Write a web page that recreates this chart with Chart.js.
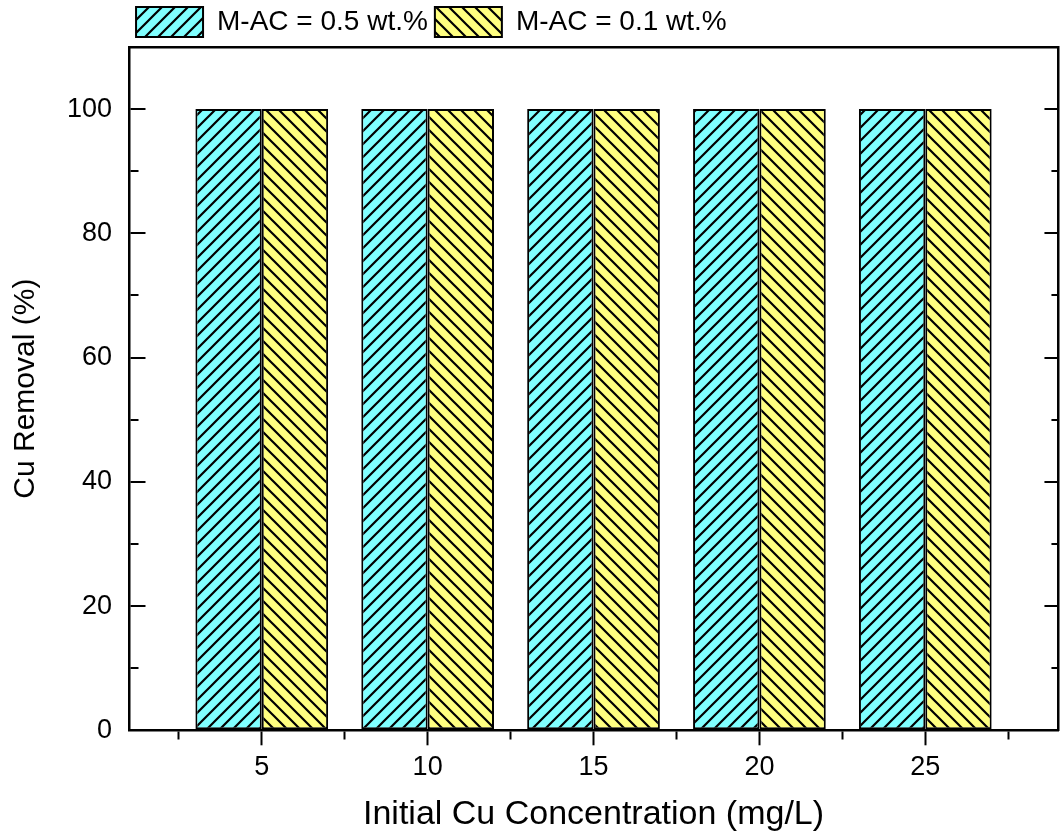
<!DOCTYPE html>
<html><head><meta charset="utf-8">
<script src="https://cdn.jsdelivr.net/npm/chart.js@4.4.1/dist/chart.umd.min.js"></script>
<style>html,body{margin:0;padding:0;background:#fff}#wrap{width:1061px;height:839px;position:relative}</style>
</head><body><div id="wrap"><canvas id="c" width="1061" height="839" style="width:1061px;height:839px"></canvas></div>
<script>
const categories = [5, 10, 15, 20, 25];
const seriesNames = ['M-AC = 0.5 wt.%', 'M-AC = 0.1 wt.%'];
const removal05 = [100, 100, 100, 100, 100];
const removal01 = [100, 100, 100, 100, 100];
const xMajorTicks = [5, 10, 15, 20, 25];
const xMinorTicks = [2.5, 7.5, 12.5, 17.5, 22.5, 27.5];
const yMajorTicks = [0, 20, 40, 60, 80, 100];
const yMinorTicks = [10, 30, 50, 70, 90];
const xRange = [1, 29];
const yRange = [0, 110];
const xTitle = 'Initial Cu Concentration (mg/L)';
const yTitle = 'Cu Removal (%)';

const FONT = "'Liberation Sans', Arial, sans-serif";
const canvas = document.getElementById('c');

function hatch(bg, dir) {
  const s = 13;
  const c = document.createElement('canvas');
  c.width = s; c.height = s;
  const g = c.getContext('2d');
  g.fillStyle = bg; g.fillRect(0, 0, s, s);
  g.strokeStyle = '#000'; g.lineWidth = 2.2;
  g.beginPath();
  if (dir === '/') {
    g.moveTo(-2, s + 2); g.lineTo(s + 2, -2);
    g.moveTo(-2, 2); g.lineTo(2, -2);
    g.moveTo(s - 2, s + 2); g.lineTo(s + 2, s - 2);
  } else {
    g.moveTo(-2, -2); g.lineTo(s + 2, s + 2);
    g.moveTo(-2, s - 2); g.lineTo(2, s + 2);
    g.moveTo(s - 2, -2); g.lineTo(s + 2, 2);
  }
  g.stroke();
  return canvas.getContext('2d').createPattern(c, 'repeat');
}

const toPoints = (vals) => categories.map((x, i) => ({x: x, y: vals[i]}));
const sortedX = xMajorTicks.concat(xMinorTicks).sort((a, b) => a - b);
const sortedY = yMajorTicks.concat(yMinorTicks).sort((a, b) => a - b);

new Chart(canvas, {
  type: 'bar',
  data: {
    datasets: [
      {label: seriesNames[0], data: toPoints(removal05), xAxisID: 'xb', yAxisID: 'y',
       backgroundColor: hatch('#80ffff', '/'), borderColor: '#000', borderWidth: 2, borderSkipped: false},
      {label: seriesNames[1], data: toPoints(removal01), xAxisID: 'xb', yAxisID: 'y',
       backgroundColor: hatch('#ffff80', '\\'), borderColor: '#000', borderWidth: 2, borderSkipped: false}
    ]
  },
  options: {
    responsive: false,
    animation: false,
    devicePixelRatio: 1,
    layout: {padding: {left: 0, right: 3, top: 0, bottom: 0}},
    datasets: {bar: {categoryPercentage: 0.8, barPercentage: 1.0}},
    plugins: {
      tooltip: {enabled: false},
      legend: {
        position: 'top', align: 'start', fullSize: false,
        labels: {
          boxWidth: 67, boxHeight: 30, padding: 7, color: '#000',
          font: {family: FONT, size: 28, lineHeight: 1}
        }
      }
    },
    scales: {
      xb: {
        type: 'linear', axis: 'x', position: 'bottom', display: false, offset: false,
        min: xRange[0], max: xRange[1],
        grid: {offset: false},
        afterBuildTicks: (s) => { s.ticks = xMajorTicks.map(v => ({value: v})); }
      },
      x: {
        type: 'linear', axis: 'x', position: 'bottom', offset: false,
        min: xRange[0], max: xRange[1],
        afterBuildTicks: (s) => { s.ticks = sortedX.map(v => ({value: v})); },
        grid: {
          display: true, offset: false, drawOnChartArea: false, drawTicks: true, tickLength: 15,
          tickColor: '#000', tickWidth: 2,
          tickBorderDash: (ctx) => (ctx.tick && xMinorTicks.includes(ctx.tick.value)) ? [8, 200] : []
        },
        border: {display: true, color: '#000', width: 2.5},
        ticks: {
          autoSkip: false, maxRotation: 0, padding: 6, color: '#000',
          font: {family: FONT, size: 27},
          callback: (v) => xMajorTicks.includes(v) ? String(v) : ''
        },
        title: {display: true, text: xTitle, color: '#000',
          font: {family: FONT, size: 34}, padding: {top: 4.5, bottom: 4}}
      },
      xt: {
        type: 'linear', axis: 'x', position: 'top', offset: false, min: xRange[0], max: xRange[1],
        grid: {display: false, drawTicks: false, offset: false},
        ticks: {display: false},
        border: {display: true, color: '#000', width: 2.5}
      },
      y: {
        type: 'linear', axis: 'y', position: 'left',
        min: yRange[0], max: yRange[1],
        afterBuildTicks: (s) => { s.ticks = sortedY.map(v => ({value: v})); },
        grid: {
          display: true, drawOnChartArea: true, drawTicks: false,
          color: '#000', lineWidth: 2
        },
        border: {
          display: true, color: '#000', width: 2.5,
          dash: (ctx) => {
            if (!ctx.tick) return [];
            const a = ctx.chart.chartArea;
            if (!a) return [];
            const w = a.right - a.left;
            const L = yMajorTicks.includes(ctx.tick.value) ? 15 : 8;
            return [L, w - 2 * L, L, 4000];
          }
        },
        ticks: {
          autoSkip: false, padding: 17, color: '#000',
          font: {family: FONT, size: 27},
          callback: (v) => yMajorTicks.includes(v) ? String(v) : ''
        },
        title: {display: true, text: yTitle, color: '#000',
          font: {family: FONT, size: 30}, padding: {top: 8, bottom: 6}}
      },
      yr: {
        type: 'linear', axis: 'y', position: 'right', min: yRange[0], max: yRange[1],
        grid: {display: false, drawTicks: false},
        ticks: {display: false},
        border: {display: true, color: '#000', width: 2.5}
      }
    }
  }
});
</script></body></html>
